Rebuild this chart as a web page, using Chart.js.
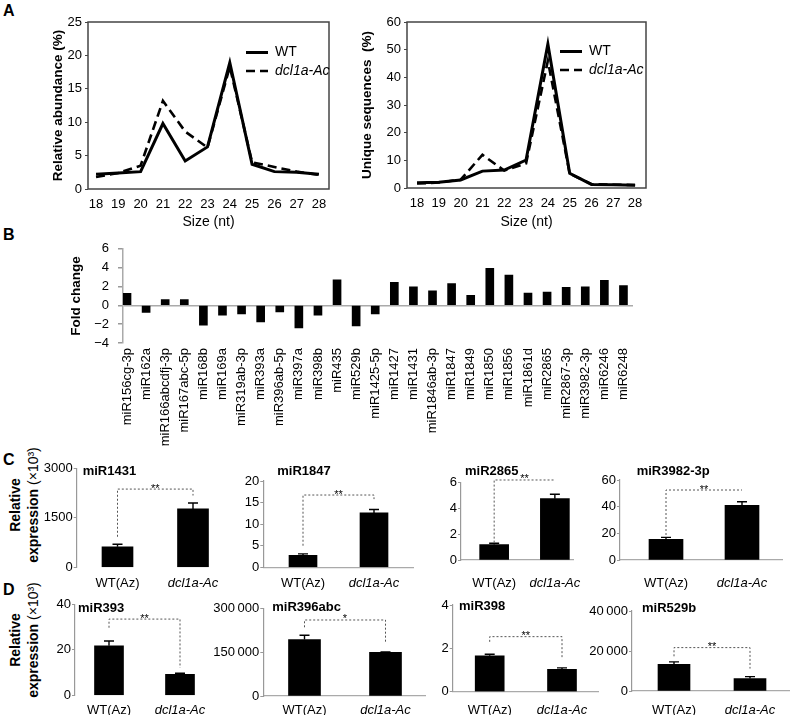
<!DOCTYPE html>
<html><head><meta charset="utf-8">
<script src="https://cdn.jsdelivr.net/npm/chart.js@4.4.1/dist/chart.umd.min.js"></script>
<style>
body{margin:0;background:#fff;width:790px;height:715px;overflow:hidden;position:relative;font-family:"Liberation Sans",Arial,sans-serif;color:#000;}
canvas{position:absolute;}
.lbl{position:absolute;font-weight:bold;font-size:16px;line-height:16px;}
.ytl{position:absolute;width:150px;height:36px;font-size:14px;line-height:18px;text-align:center;white-space:nowrap;transform:rotate(-90deg);}
</style></head><body>
<div class="lbl" style="left:3px;top:3px">A</div>
<div class="lbl" style="left:3px;top:227px">B</div>
<div class="lbl" style="left:3px;top:452px">C</div>
<div class="lbl" style="left:3px;top:582px">D</div>
<div class="ytl" style="left:-51px;top:487px"><b>Relative</b><br><b>expression</b> (×10³)</div>
<div class="ytl" style="left:-51px;top:622px"><b>Relative</b><br><b>expression</b> (×10³)</div>
<script>
// ---------- Panel A data ----------
const sizes = [18, 19, 20, 21, 22, 23, 24, 25, 26, 27, 28];
const abundanceWT  = [2.2, 2.4, 2.6, 9.8, 4.2, 6.3, 18.9, 3.7, 2.6, 2.5, 2.2];
const abundanceDcl = [1.8, 2.4, 3.5, 13.2, 8.6, 6.2, 18.3, 4.0, 3.3, 2.6, 2.1];
const uniqueWT  = [1.9, 2.1, 2.9, 6.1, 6.5, 10.1, 52.0, 5.3, 1.3, 1.2, 1.0];
const uniqueDcl = [1.6, 2.0, 3.0, 12.0, 6.3, 8.9, 46.0, 5.2, 1.4, 1.2, 1.1];
const seriesNames = ['WT', 'dcl1a-Ac'];

// ---------- Panel B data ----------
const mirNames = ['miR156cg-3p','miR162a','miR166abcdfj-3p','miR167abc-5p','miR168b','miR169a','miR319ab-3p','miR393a','miR396ab-5p','miR397a','miR398b','miR435','miR529b','miR1425-5p','miR1427','miR1431','miR1846ab-3p','miR1847','miR1849','miR1850','miR1856','miR1861d','miR2865','miR2867-3p','miR3982-3p','miR6246','miR6248'];
const foldChange = [1.27, -0.75, 0.6, 0.6, -2.1, -1.05, -0.9, -1.75, -0.7, -2.4, -1.05, 2.7, -2.2, -0.9, 2.45, 1.95, 1.55, 2.3, 1.07, 3.94, 3.2, 1.3, 1.4, 1.9, 1.95, 2.65, 2.1];

// ---------- Panels C/D data ----------
const groups = ['WT(Az)', 'dcl1a-Ac'];
const qNames  = ['miR1431', 'miR1847', 'miR2865', 'miR3982-3p', 'miR393', 'miR396abc', 'miR398', 'miR529b'];
const meanWT  = [620, 2.8, 1.2, 15.5, 21.8, 193000, 1.66, 13350];
const meanDcl = [1770, 12.6, 4.76, 41, 9.2, 149500, 1.03, 6200];
const errWT   = [80, 0.3, 0.1, 1.5, 2.1, 15000, 0.07, 1200];
const errDcl  = [180, 0.8, 0.34, 2.7, 0.5, 1200, 0.07, 1000];
const yMax    = [3000, 20, 6, 60, 40, 300000, 4, 40000];
const yStep   = [1500, 5, 2, 20, 20, 150000, 2, 20000];
const brStart = [925, 5.0, 1.35, 18.75, 29.7, 235000, 2.3, 17350];
const brTop   = [2370, 16.75, 6.21, 52.5, 33.5, 260000, 2.54, 21700];
const brEnd   = [2175, 15.8, 6.21, 52.5, 12.1, 182000, 1.5, 11200];
const sigMark = ['**', '**', '**', '**', '**', '*', '**', '**'];

const FONT = "'Liberation Sans', Arial, Helvetica, sans-serif";
Chart.defaults.font.family = FONT;
Chart.defaults.color = '#000';
Chart.defaults.plugins.legend.display = false;
Chart.defaults.plugins.tooltip.enabled = false;

// frame around plot area
Chart.register({
  id: 'frame',
  afterDraw(chart, a, o) {
    if (!o.show) return;
    const c = chart.ctx, ca = chart.chartArea;
    c.save(); c.strokeStyle = o.color; c.lineWidth = o.width;
    c.strokeRect(ca.left, ca.top, ca.right - ca.left, ca.bottom - ca.top);
    c.restore();
  }
});
// in-plot legend
Chart.register({
  id: 'miniLegend',
  afterDraw(chart, a, o) {
    if (!o.show) return;
    const c = chart.ctx, ca = chart.chartArea;
    chart.data.datasets.forEach((ds, k) => {
      const y = ca.top + o.dy[k], x0 = ca.left + o.dx;
      c.save();
      c.strokeStyle = ds.borderColor; c.lineWidth = ds.borderWidth;
      c.setLineDash(ds.borderDash || []);
      c.beginPath(); c.moveTo(x0, y); c.lineTo(x0 + o.len, y); c.stroke();
      c.setLineDash([]);
      c.fillStyle = '#000';
      c.font = (k === 1 ? 'italic ' : '') + o.size + 'px ' + FONT;
      c.textBaseline = 'middle'; c.textAlign = 'left';
      c.fillText(ds.label, x0 + o.len + o.gap, y);
      c.restore();
    });
  }
});
// small-plot title
Chart.register({
  id: 'subTitle',
  afterDraw(chart, a, o) {
    if (!o.text) return;
    const c = chart.ctx, ca = chart.chartArea;
    c.save(); c.fillStyle = '#000'; c.font = 'bold 13px ' + FONT;
    c.textBaseline = 'middle'; c.textAlign = 'left';
    c.fillText(o.text, ca.left + o.dx, ca.top + o.dy);
    c.restore();
  }
});
// error bars and significance brackets
Chart.register({
  id: 'qpcr',
  afterDatasetsDraw(chart, a, o) {
    if (o.idx === undefined) return;
    const i = o.idx, c = chart.ctx, ys = chart.scales.y;
    const meta = chart.getDatasetMeta(0);
    const means = [meanWT[i], meanDcl[i]], errs = [errWT[i], errDcl[i]];
    c.save();
    c.strokeStyle = '#000'; c.lineWidth = 1.4;
    meta.data.forEach((bar, k) => {
      const yb = ys.getPixelForValue(means[k]);
      const yt = ys.getPixelForValue(means[k] + errs[k]);
      c.beginPath();
      c.moveTo(bar.x, yb); c.lineTo(bar.x, yt);
      c.moveTo(bar.x - 5, yt); c.lineTo(bar.x + 5, yt);
      c.stroke();
    });
    const xl = meta.data[0].x, xr = meta.data[1].x;
    const y0 = ys.getPixelForValue(brStart[i]);
    const y1 = ys.getPixelForValue(brTop[i]);
    const y2 = ys.getPixelForValue(brEnd[i]);
    c.strokeStyle = '#555'; c.lineWidth = 1; c.setLineDash([2, 2]);
    c.beginPath(); c.moveTo(xl, y0); c.lineTo(xl, y1); c.lineTo(xr, y1); c.lineTo(xr, y2); c.stroke();
    c.setLineDash([]);
    c.fillStyle = '#000'; c.font = '11px ' + FONT; c.textAlign = 'center'; c.textBaseline = 'alphabetic';
    c.fillText(sigMark[i], (xl + xr) / 2, y1 + 2.5);
    c.restore();
  }
});

// place a chart so that its plot area is exactly `area` (page px) inside canvas `box`
function makeChart(area, box, cfg) {
  const cv = document.createElement('canvas');
  const L = Math.round(box.L), T = Math.round(box.T);
  const w = Math.round(Math.min(box.R, 790) - L), h = Math.round(box.B - T);
  cv.width = w; cv.height = h;
  cv.style.left = L + 'px'; cv.style.top = T + 'px';
  cv.style.width = w + 'px'; cv.style.height = h + 'px';
  document.body.appendChild(cv);
  const o = cfg.options;
  o.responsive = false; o.maintainAspectRatio = false; o.animation = false; o.devicePixelRatio = 1;
  o.layout = { padding: { left: 0, bottom: 0, top: area.T - T, right: L + w - area.R } };
  const hx = T + h - area.B, wy = area.L - L;
  o.scales.x.afterFit = s => { s.height = hx; };
  o.scales.y.afterFit = s => { s.width = wy; };
  return new Chart(cv, cfg);
}

// ---------- Panel A ----------
function lineCfg(wt, dcl, ymax, ystep, ytitle, xmin, xmax, leg) {
  const mk = arr => sizes.map((s, i) => ({ x: s, y: arr[i] }));
  return {
    type: 'line',
    data: { datasets: [
      { label: seriesNames[0], data: mk(wt), borderColor: '#000', borderWidth: 3, pointRadius: 0, tension: 0, order: 0, borderJoinStyle: 'miter' },
      { label: seriesNames[1], data: mk(dcl), borderColor: '#000', borderWidth: 2.6, borderDash: [9, 5], pointRadius: 0, tension: 0, order: 1, borderJoinStyle: 'miter' }
    ]},
    options: {
      scales: {
        x: { type: 'linear', min: xmin, max: xmax,
             afterBuildTicks: s => { s.ticks = sizes.map(v => ({ value: v })); },
             ticks: { font: { size: 13 }, padding: 8, autoSkip: false, maxRotation: 0, callback: v => String(v) },
             grid: { display: false, drawTicks: false }, border: { display: false },
             title: { display: true, text: 'Size (nt)', font: { size: 14 }, padding: 0 } },
        y: { min: 0, max: ymax,
             ticks: { stepSize: ystep, font: { size: 13 }, padding: 3 },
             grid: { drawOnChartArea: false, tickLength: 3, color: '#444' }, border: { display: false },
             title: { display: true, text: ytitle, font: { size: 13.5, weight: 'bold' }, padding: 0 } }
      },
      plugins: { frame: { show: true, color: '#444', width: 1.5 }, miniLegend: Object.assign({ show: true, len: 22, gap: 7, size: 14 }, leg) }
    }
  };
}
makeChart({ L: 88, T: 22, R: 329, B: 189 }, { L: 50, T: 0, R: 395, B: 231 },
  lineCfg(abundanceWT, abundanceDcl, 25, 5, 'Relative abundance (%)', 17.64, 28.45, { dx: 158, dy: [30.5, 49] }));
makeChart({ L: 407, T: 22, R: 646, B: 188 }, { L: 359, T: 0, R: 790, B: 231 },
  lineCfg(uniqueWT, uniqueDcl, 60, 10, 'Unique sequences  (%)', 17.54, 28.5, { dx: 153, dy: [29.5, 48] }));

// ---------- Panel B ----------
makeChart({ L: 123, T: 244, R: 633, B: 343 }, { L: 68, T: 232, R: 660, B: 455 }, {
  type: 'bar',
  data: { datasets: [{ label: 'Fold change', data: mirNames.map((n, i) => ({ x: i, y: foldChange[i] })), backgroundColor: '#000', barThickness: 8 }] },
  options: {
    scales: {
      x: { type: 'linear', offset: false, min: -0.21, max: 26.5,
           afterBuildTicks: s => { s.ticks = mirNames.map((n, i) => ({ value: i })); },
           ticks: { callback: v => mirNames[v], autoSkip: false, minRotation: 90, maxRotation: 90, padding: 5, font: { size: 13 } },
           grid: { display: false, offset: false, drawTicks: false }, border: { display: false } },
      y: { min: -4, max: 6,
           ticks: { stepSize: 2, padding: 9, font: { size: 13 }, callback: v => v < 0 ? '\u2212' + Math.abs(v) : String(v) },
           grid: { color: c => (c.tick && c.tick.value === 0) ? '#aaa' : 'rgba(0,0,0,0)', tickColor: '#999', tickLength: 5, lineWidth: 1.5 },
           border: { color: '#aaa', width: 1.5 },
           title: { display: true, text: 'Fold change', font: { size: 13.5, weight: 'bold' }, padding: 0 } }
    }
  }
});

// ---------- Panels C/D ----------
const geo = [
  { L: 76.7,  T: 468.3, R: 230, B: 567.3, c1: 117.5, c2: 193,   bw: 31, tx: 6,    ty: 3.4,  ly: 581, line: false },
  { L: 263.3, T: 481,   R: 413, B: 567.3, c1: 303,   c2: 374,   bw: 28, tx: 14,   ty: -10,  ly: 581, line: true },
  { L: 461,   T: 482.7, R: 592, B: 560,   c1: 499.5, c2: 570,   bw: 29, tx: 4,    ty: -11,  ly: 581, line: true },
  { L: 620,   T: 480,   R: 782, B: 560,   c1: 666,   c2: 742,   bw: 34, tx: 16.7, ty: -8.3, ly: 581, line: true },
  { L: 75,    T: 604.3, R: 225, B: 695.3, c1: 109,   c2: 180,   bw: 29, tx: 3,    ty: 4,    ly: 708, line: false },
  { L: 263.3, T: 608.3, R: 425, B: 696,   c1: 304.5, c2: 385.5, bw: 32, tx: 9,    ty: -0.6, ly: 708, line: true },
  { L: 452.7, T: 605,   R: 598, B: 691.7, c1: 489.7, c2: 562,   bw: 29, tx: 6.3,  ty: 1.7,  ly: 708, line: true },
  { L: 632,   T: 611,   R: 790, B: 691,   c1: 674,   c2: 750,   bw: 32, tx: 10,   ty: -2.7, ly: 708, line: true }
];
const fmtNum = v => v >= 10000 ? String(v).replace(/\B(?=(\d{3})+(?!\d))/g, '\u2009') : String(v);

geo.forEach((g, i) => {
  const span = g.c2 - g.c1;
  makeChart({ L: g.L, T: g.T, R: g.R, B: g.B }, { L: g.L - 62, T: g.T - 30, R: g.R + 5, B: g.B + 30 }, {
    type: 'bar',
    data: { datasets: [{ label: qNames[i], data: [{ x: 0, y: meanWT[i] }, { x: 1, y: meanDcl[i] }], backgroundColor: '#000', barThickness: g.bw }] },
    options: {
      scales: {
        x: { type: 'linear', offset: false, min: -(g.c1 - g.L) / span, max: 1 + (g.R - g.c2) / span,
             afterBuildTicks: s => { s.ticks = groups.map((n, k) => ({ value: k })); },
             ticks: { callback: v => groups[v], autoSkip: false, maxRotation: 0, padding: g.ly - g.B - 5,
                      font: c => ({ size: 13, style: c.index === 1 ? 'italic' : 'normal' }) },
             grid: { display: false, offset: false, drawTicks: false }, border: { display: g.line, color: '#aaa', width: 1.2 } },
        y: { min: 0, max: yMax[i],
             ticks: { stepSize: yStep[i], padding: 1, font: { size: 13 }, callback: fmtNum },
             grid: { drawOnChartArea: false, tickLength: 3, color: '#999' }, border: { color: '#999', width: 1.2 } }
      },
      plugins: { qpcr: { idx: i }, subTitle: { text: qNames[i], dx: g.tx, dy: g.ty } }
    }
  });
});
</script>
</body></html>
